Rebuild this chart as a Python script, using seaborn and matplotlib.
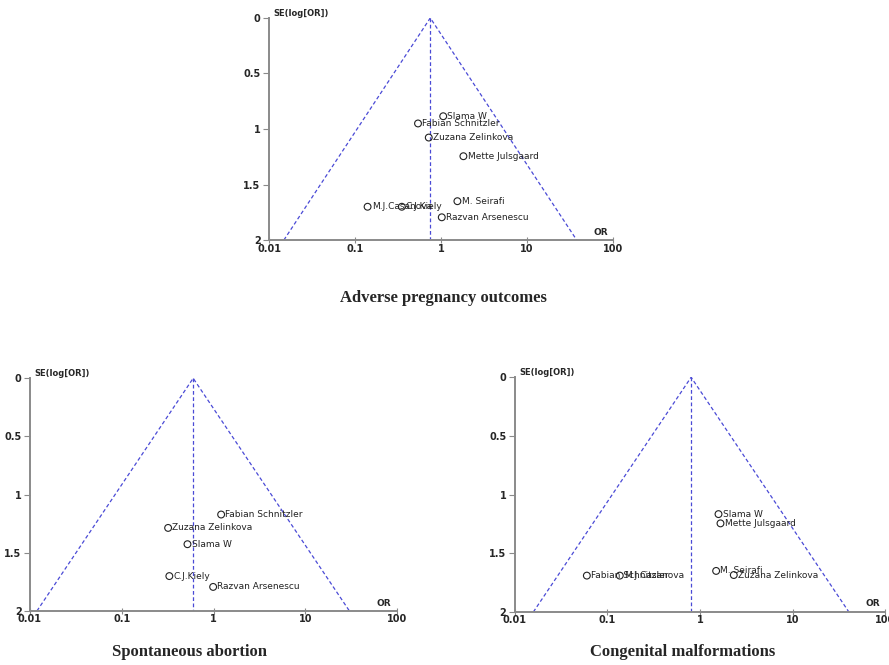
import numpy as np
import pandas as pd
import matplotlib.pyplot as plt
import seaborn as sns

sns.set_style('ticks')
plt.rcParams['font.family'] = ['DejaVu Sans']

# Adverse pregnancy outcomes
adverse_names = ['Slama W', 'Fabian Schnitzler', 'Zuzana Zelinkova', 'Mette Julsgaard',
                 'M. Seirafi', 'Razvan Arsenescu', 'M.J.Casanova', 'C.J.Kiely']
adverse_or = [1.06, 0.54, 0.72, 1.82, 1.55, 1.02, 0.14, 0.35]
adverse_se = [0.885, 0.95, 1.077, 1.245, 1.65, 1.795, 1.70, 1.70]
adverse_pooled = 0.75

# Spontaneous abortion
abortion_names = ['Fabian Schnitzler', 'Zuzana Zelinkova', 'Slama W', 'C.J.Kiely', 'Razvan Arsenescu']
abortion_or = [1.21, 0.32, 0.52, 0.33, 0.99]
abortion_se = [1.171, 1.286, 1.426, 1.70, 1.793]
abortion_pooled = 0.6

# Congenital malformations
congenital_names = ['Slama W', 'Mette Julsgaard', 'M. Seirafi', 'Zuzana Zelinkova',
                    'Fabian Schnitzler', 'M.J.Casanova']
congenital_or = [1.58, 1.66, 1.49, 2.31, 0.060, 0.136]
congenital_se = [1.166, 1.245, 1.65, 1.685, 1.69, 1.69]
congenital_pooled = 0.8

titles = ['Adverse pregnancy outcomes', 'Spontaneous abortion', 'Congenital malformations']


def funnel(ax, names, ors, ses, pooled):
    df = pd.DataFrame({'study': names, 'OR': ors, 'SE': ses})
    # funnel limits (95%) at SE = 2
    se_max = 2.0
    lo = pooled * np.exp(-1.96 * se_max)
    hi = pooled * np.exp(1.96 * se_max)
    line_kw = dict(color='#4a4ad6', linestyle=(0, (3, 2)), linewidth=0.9)
    ax.plot([lo, pooled, hi], [se_max, 0, se_max], **line_kw)
    ax.plot([pooled, pooled], [0, se_max], **line_kw)
    sns.scatterplot(data=df, x='OR', y='SE', ax=ax, marker='o', s=24,
                    facecolor='none', edgecolor='#222222', linewidth=0.8, zorder=3)
    for _, r in df.iterrows():
        ax.annotate(r['study'], (r['OR'], r['SE']), xytext=(3, 0), textcoords='offset points',
                    va='center', ha='left', fontsize=6.5, color='#222222')
    ax.set_xscale('log')
    ax.set_xlim(0.01, 100)
    ax.set_ylim(2, 0)
    ax.set_xticks([0.01, 0.1, 1, 10, 100])
    ax.set_xticklabels(['0.01', '0.1', '1', '10', '100'])
    ax.xaxis.set_minor_locator(plt.NullLocator())
    ax.set_yticks([0, 0.5, 1, 1.5, 2])
    ax.set_yticklabels(['0', '0.5', '1', '1.5', '2'])
    ax.set_xlabel('')
    ax.set_ylabel('')
    for side in ['top', 'right']:
        ax.spines[side].set_visible(False)
    for side in ['left', 'bottom']:
        ax.spines[side].set_color('#8a8a8a')
        ax.spines[side].set_linewidth(1.4)
    ax.tick_params(axis='x', direction='inout', length=5, width=0.8, color='#8a8a8a', pad=0,
                   labelsize=7)
    ax.tick_params(axis='y', direction='out', length=4, width=0.8, color='#8a8a8a', pad=2,
                   labelsize=7)
    for lab in ax.get_xticklabels() + ax.get_yticklabels():
        lab.set_fontweight('bold')
    ax.text(0.012, 1.0, 'SE(log[OR])', transform=ax.transAxes, fontsize=6, fontweight='bold',
            va='bottom', ha='left')
    ax.text(0.985, 0.015, 'OR', transform=ax.transAxes, fontsize=6.5, fontweight='bold',
            va='bottom', ha='right')


fig = plt.figure(figsize=(8.89, 6.65), dpi=100)
ax1 = fig.add_axes([0.3026, 0.639, 0.387, 0.334])
ax2 = fig.add_axes([0.0337, 0.0812, 0.413, 0.350])
ax3 = fig.add_axes([0.579, 0.0797, 0.417, 0.353])

funnel(ax1, adverse_names, adverse_or, adverse_se, adverse_pooled)
funnel(ax2, abortion_names, abortion_or, abortion_se, abortion_pooled)
funnel(ax3, congenital_names, congenital_or, congenital_se, congenital_pooled)

title_kw = dict(fontsize=12, fontweight='bold', family='Liberation Serif', ha='center', va='center')
fig.text(443 / 889, 1 - 298 / 665, titles[0], **title_kw)
fig.text(190 / 889, 1 - 652 / 665, titles[1], **title_kw)
fig.text(683 / 889, 1 - 652 / 665, titles[2], **title_kw)

plt.savefig('out.png', dpi=100)
